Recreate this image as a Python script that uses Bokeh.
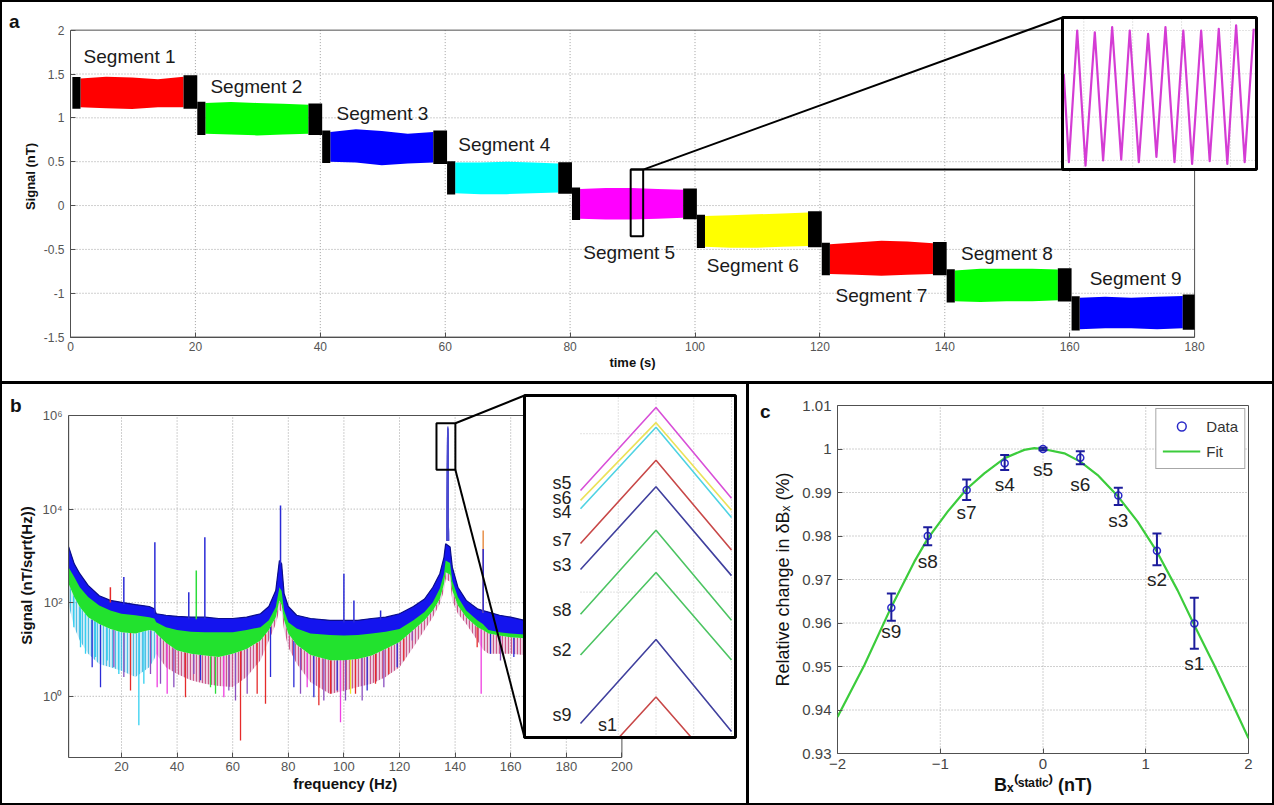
import numpy as np
from bokeh.plotting import figure
from bokeh.layouts import column, row
from bokeh.models import (Range1d, FixedTicker, ColumnDataSource, Legend, LegendItem,
                          Whisker, TeeHead, LogScale, CustomJSTickFormatter, LinearAxis, LogAxis)
from bokeh.core.properties import value
from bokeh.embed import file_html
from bokeh.resources import INLINE

FONT = "Liberation Sans"

# ===================== DATA =====================
# ---- panel a : stepped field, envelope of each segment (nT) ----
seg_names = ["Segment 1", "Segment 2", "Segment 3", "Segment 4", "Segment 5",
             "Segment 6", "Segment 7", "Segment 8", "Segment 9"]
seg_colors = ["#ff0000", "#00ff00", "#0000ff", "#00ffff", "#ff00ff",
              "#ffff00", "#ff0000", "#00ff00", "#0000ff"]
seg_start = [0, 20, 40, 60, 80, 100, 120, 140, 160]
seg_env_dt = [1.6, 5.7, 9.85, 14.0, 18.1]
seg_top = [
    [1.45, 1.47, 1.46, 1.44, 1.47],
    [1.17, 1.18, 1.17, 1.16, 1.15],
    [0.84, 0.87, 0.85, 0.82, 0.84],
    [0.49, 0.49, 0.50, 0.49, 0.48],
    [0.19, 0.20, 0.20, 0.19, 0.18],
    [-0.12, -0.11, -0.10, -0.09, -0.08],
    [-0.44, -0.42, -0.40, -0.41, -0.43],
    [-0.74, -0.72, -0.72, -0.72, -0.73],
    [-1.05, -1.04, -1.05, -1.04, -1.03],
]
seg_bot = [
    [1.12, 1.11, 1.10, 1.12, 1.12],
    [0.82, 0.81, 0.80, 0.81, 0.82],
    [0.50, 0.49, 0.46, 0.48, 0.49],
    [0.14, 0.13, 0.13, 0.14, 0.15],
    [-0.15, -0.16, -0.16, -0.15, -0.14],
    [-0.47, -0.48, -0.48, -0.47, -0.46],
    [-0.78, -0.79, -0.80, -0.79, -0.78],
    [-1.09, -1.10, -1.09, -1.09, -1.08],
    [-1.41, -1.40, -1.40, -1.41, -1.40],
]
black_lead = (0.3, 1.6)
black_tail = (18.1, 20.3)

# zoomed trace (inset of panel a): extrema of the magenta trace
zoom_t = [1.8, 3.9, 7.3, 10.7, 14.5, 17.9, 21.6, 25.3, 28.8, 32.5, 36.3, 39.7,
          43.4, 47.1, 50.7, 54.3, 58.0, 61.5, 65.2, 68.7, 72.3, 75.8, 79.5]   # ms
zoom_v = [0.100, -0.104, 0.200, -0.112, 0.196, -0.100, 0.208, -0.098, 0.200, -0.104,
          0.192, -0.092, 0.208, -0.104, 0.200, -0.108, 0.200, -0.102, 0.204, -0.108,
          0.212, -0.104, 0.204]                                                    # nT

# ---- panel b : spectra (nT/sqrt(Hz)), envelopes of the overlaid traces ----
spec_f = [1.0, 3, 5, 8, 12, 16, 20, 25, 30, 31.8,
          32.5, 36, 40, 45, 50, 55, 60, 65, 70, 73,
          75.5, 76.8, 77.6, 78.5, 80, 83, 88, 95, 100, 105,
          110, 115, 120, 125, 129, 132, 134.5, 136, 136.6, 138.2,
          139, 141, 144, 148, 150, 152, 156, 160, 165, 180, 200]
spec_blue_top = [1550, 676, 417, 234, 141, 112, 102, 91, 83, 74,
                 58, 54, 51, 49, 49, 46, 46, 49, 58, 83,
                 182, 794, 676, 155, 83, 54, 46, 42, 42, 42,
                 46, 49, 58, 83, 120, 214, 417, 933, 1820, 1550,
                 575, 214, 112, 74, 68, 63, 54, 49, 42, 35, 32]
spec_blue_bot = [562, 355, 214, 132, 87, 68, 58, 54, 49, 46,
                 38, 30, 26, 24, 23.4, 23.4, 23.4, 26, 30, 42,
                 81, 214, 178, 68, 38, 28, 22, 20.4, 20, 20.4,
                 22, 24, 27.5, 42, 63, 102, 200, 417, 794, 708,
                 295, 132, 68, 42, 35, 26, 23.4, 22, 21, 19.5, 18.2]
spec_green_bot = [251, 132, 81, 49, 35, 27.5, 23.4, 22, 26, 25,
                  22, 14, 9.5, 8.1, 7.4, 6.9, 8.1, 10.2, 15.5, 26,
                  49, 112, 89, 42, 22, 12.6, 7.6, 5.9, 5.9, 6.3,
                  7.4, 10.2, 14.5, 26, 42, 68, 120, 251, 447, 398,
                  182, 87, 49, 30, 26, 22, 20, 18.2, 17.4, 15.1, 13.2]
spec_fringe_bot = [89, 30, 15.5, 8.1, 4.9, 4.2, 3.5, 2.6, 4.2, 6.3,
                   8.1, 4.2, 3.0, 2.2, 1.86, 1.66, 1.58, 2.6, 5.9, 15.5,
                   35, 71, 63, 26, 11.2, 5.0, 2.0, 1.12, 1.32, 1.58,
                   1.86, 2.6, 4.2, 11.2, 26, 49, 95, 182, 316, 282,
                   112, 58, 35, 15.5, 10, 8.1, 8.1, 8.1, 7.6, 6.6, 5.9]
dip_f = [2.86, 5.25, 7.05, 9.45, 10.65, 12.45, 14.85, 17.24, 19.04, 20.84,
         23.24, 26.24, 28.04, 30.43, 32.83, 34.03, 36.43, 38.83, 43.02, 46.02,
         48.42, 52.02, 53.82, 56.81, 58.61, 61.01, 62.81, 65.21, 68.80, 71.80,
         73.60, 82.0, 84.39, 86.79, 89.19, 90.99, 92.78, 95.18, 97.58, 98.78,
         100.58, 102.38, 104.17, 106.57, 108.37, 111.37, 114.37, 116.17, 119.16, 121.56,
         124.56, 147.94, 149.38, 152.74, 156.33, 161.13]
dip_v = [30, 11.2, 8.1, 4.2, 6.9, 1.57, 5.8, 4.2, 3.0, 2.6,
         1.33, 0.24, 1.85, 3.0, 1.57, 1.85, 1.13, 1.57, 0.96, 3.0,
         2.2, 1.57, 1.13, 0.96, 1.33, 0.81, 0.114, 1.13, 1.13, 0.69,
         2.6, 1.57, 1.13, 1.57, 0.96, 0.64, 0.81, 1.13, 1.33, 0.28,
         0.81, 1.13, 1.13, 0.81, 1.33, 1.85, 1.57, 3.0, 4.2, 5.8,
         15.6, 11.2, 1.13, 8.1, 5.8, 6.9]
dip_c = ["cyan", "cyan", "cyan", "blue", "cyan", "blue", "cyan", "purple", "cyan", "purple",
         "red", "cyan", "cyan", "purple", "magenta", "purple", "magenta", "purple", "red", "purple",
         "blue", "green", "green", "magenta", "purple", "purple", "red", "purple", "red", "red",
         "blue", "blue", "purple", "magenta", "blue", "red", "purple", "red", "blue", "magenta",
         "purple", "yellow", "red", "purple", "blue", "red", "purple", "red", "blue", "red",
         "purple", "red", "magenta", "blue", "purple", "blue"]
spike_f = [16.0, 20.84, 32.0, 44.2, 46.9, 49.98, 77.2, 100.0, 103.6, 113.2, 150.1, 150.1]
spike_v = [214, 353, 1960, 168, 488, 2510, 11900, 414, 111, 68, 3490, 1410]
spike_c = ["red", "blue", "blue", "blue", "green", "blue", "blue", "blue", "blue", "blue",
           "orange", "blue"]
peak_base = 2100.0
peak_f = [137.3, 137.4, 137.5]
peak_names = ["s1", "s2", "s3", "s4", "s5", "s6", "s7", "s8", "s9"]
peak_vals = [
    [6.76e4, 1.09e5, 6.61e4],
    [1.39e5, 2.24e5, 1.35e5],
    [2.28e5, 3.68e5, 2.20e5],
    [3.24e5, 5.19e5, 3.08e5],
    [3.60e5, 5.82e5, 3.44e5],
    [3.40e5, 5.33e5, 3.21e5],
    [2.65e5, 4.29e5, 2.55e5],
    [1.76e5, 2.86e5, 1.70e5],
    [9.35e4, 1.52e5, 8.93e4],
]
peak_inset_colors = ["#c84848", "#4cc462", "#40409e", "#4fd3e3", "#d84fd8",
                     "#ebe25a", "#c84848", "#4cc462", "#40409e"]

# ---- panel c ----
c_names = ["s9", "s8", "s7", "s4", "s5", "s6", "s3", "s2", "s1"]
c_x = [-1.476, -1.122, -0.743, -0.373, 0.0, 0.363, 0.733, 1.109, 1.473]
c_y = [0.9635, 0.9800, 0.9906, 0.9967, 1.0000, 0.9980, 0.9893, 0.9766, 0.9599]
c_lo = [0.9605, 0.9779, 0.9883, 0.9952, 0.9997, 0.9965, 0.9871, 0.9733, 0.9541]
c_hi = [0.9668, 0.9820, 0.9930, 0.9986, 1.0003, 0.9995, 0.9911, 0.9806, 0.9658]
fit_x = [-2.0, -1.739, -1.476, -1.252, -1.122, -0.928, -0.743, -0.571, -0.373, -0.182,
         -0.084, 0.0, 0.208, 0.363, 0.532, 0.733, 0.921, 1.109, 1.310, 1.473,
         1.667, 1.829, 2.0]
fit_y = [0.9384, 0.9503, 0.9637, 0.9741, 0.9794, 0.9856, 0.9908, 0.9944, 0.9979, 0.9998,
         1.0002, 1.0000, 0.9990, 0.9971, 0.9940, 0.9890, 0.9833, 0.9764, 0.9675, 0.9595,
         0.9503, 0.9422, 0.9335]

# ===================== STYLE / LAYOUT =====================
W, H = 1274, 805
PAD, GAP = 2, 3
HA_, WB_ = 379, 744
A_BOX = (PAD, PAD, W - 2 * PAD, HA_)
B_BOX = (PAD, PAD + HA_ + GAP, WB_, H - 2 * PAD - HA_ - GAP)
C_BOX = (PAD + WB_ + GAP, PAD + HA_ + GAP, W - 2 * PAD - WB_ - GAP, H - 2 * PAD - HA_ - GAP)

def frame_borders(box, L, R, T, B):
    ox, oy, w, h = box
    mbl, mbr = int(round(L - ox)), int(round(ox + w - R))
    mbt, mbb = int(round(T - oy)), int(round(oy + h - B))
    kw = dict(width=w, height=h, min_border_left=mbl, min_border_right=mbr,
              min_border_top=mbt, min_border_bottom=mbb)
    return kw, (ox + mbl, ox + w - mbr, oy + mbt, oy + h - mbb)

COL = {"cyan": "#33d0f0", "blue": "#2b2bd6", "purple": "#8a4fc0", "magenta": "#ee3fe0",
       "red": "#e52b2b", "green": "#2bdc3a", "yellow": "#f0e62b", "orange": "#e8904a"}
GRID = dict(line_color="#a0a0a0", line_dash="1 2", line_width=1)
BOX = "#505050"
COMMON = dict(output_backend="svg", toolbar_location=None, title=None, frame_align=False,
              styles={"background-color": "#ffffff"})

def style_axis(ax, size, color, lsize, lstyle="bold"):
    ax.major_label_text_font = FONT
    ax.major_label_text_font_size = size
    ax.major_label_text_color = color
    ax.axis_label_text_font = FONT
    ax.axis_label_text_font_size = lsize
    ax.axis_label_text_font_style = lstyle
    ax.axis_label_text_color = "#111111"
    ax.major_tick_in = 5
    ax.major_tick_out = 0
    ax.minor_tick_line_color = None
    ax.major_tick_line_color = BOX
    ax.axis_line_color = BOX

def text_axis(p, side, pos, txt, size, style, standoff, log=False):
    cls = LogAxis if log else LinearAxis
    ax = cls(ticker=FixedTicker(ticks=[pos]),
             formatter=CustomJSTickFormatter(code="return %r;" % txt),
             axis_line_color=None, major_tick_line_color=None, minor_tick_line_color=None,
             major_tick_in=0, major_tick_out=0,
             major_label_text_font=FONT, major_label_text_font_size=size,
             major_label_text_font_style=style, major_label_text_color="#111111",
             major_label_standoff=standoff)
    p.add_layout(ax, side)
    return ax

# ===================== PANEL A =====================
def ta(px): return (px - 70.0) / 6.245
def va(py): return -1.5 + (336.6 - py) / 87.7
kwa, (aL, aR, aT, aB) = frame_borders(A_BOX, 70.0, 1258.0, 15.0, 336.6)

pa = figure(x_range=Range1d(ta(aL), ta(aR)), y_range=Range1d(va(aB), va(aT)),
            y_axis_label="Signal (nT)", **kwa, **COMMON)
pa.outline_line_color = None
pa.grid.visible = False
a_xticks = [0, 20, 40, 60, 80, 100, 120, 140, 160, 180]
a_yticks = [-1.5, -1.0, -0.5, 0.0, 0.5, 1.0, 1.5, 2.0]
pa.xaxis.ticker = FixedTicker(ticks=a_xticks)
pa.yaxis.ticker = FixedTicker(ticks=a_yticks)
pa.xaxis.bounds = (a_xticks[0], a_xticks[-1])
pa.yaxis.bounds = (a_yticks[0], a_yticks[-1])
pa.yaxis.formatter = CustomJSTickFormatter(code="return String(tick);")
style_axis(pa.xaxis[0], "12px", "#555555", "13px")
style_axis(pa.yaxis[0], "12px", "#555555", "13px")
pa.xaxis.major_label_standoff = 4
pa.yaxis.major_label_standoff = 6
pa.yaxis.axis_label_standoff = 3
text_axis(pa, "below", 0.5 * (a_xticks[0] + a_xticks[-1]), "time (s)", "13px", "bold", 1)
text_axis(pa, "left", va(21), "a", "19px", "bold", 0)

gx, gy = a_xticks[1:-1], a_yticks[1:-1]
pa.segment(x0=gx, y0=[a_yticks[0]] * len(gx), x1=gx, y1=[a_yticks[-1]] * len(gx), **GRID)
pa.segment(x0=[a_xticks[0]] * len(gy), y0=gy, x1=[a_xticks[-1]] * len(gy), y1=gy, **GRID)
pa.quad(left=[a_xticks[0]], right=[a_xticks[-1]], bottom=[a_yticks[0]], top=[a_yticks[-1]],
        fill_color=None, line_color=BOX, line_width=1)

for i in range(9):
    t0 = seg_start[i]
    xs = [t0 + d for d in seg_env_dt]
    pa.varea(x=xs, y1=seg_bot[i], y2=seg_top[i], fill_color=seg_colors[i])
    pa.varea(x=[t0 + black_lead[0], t0 + black_lead[1]],
             y1=[seg_bot[i][0] - 0.015] * 2, y2=[seg_top[i][0] + 0.015] * 2, fill_color="black")
    tail_end = min(t0 + black_tail[1], a_xticks[-1])
    pa.varea(x=[t0 + black_tail[0], tail_end],
             y1=[seg_bot[i][-1] - 0.015] * 2, y2=[seg_top[i][-1] + 0.015] * 2, fill_color="black")

seg_lab_t = [2.1, 22.4, 42.6, 62.1, 82.1, 101.9, 122.5, 142.6, 163.2]
seg_lab_v = [1.70, 1.36, 1.055, 0.70, -0.53, -0.68, -1.03, -0.55, -0.83]
pa.text(x=seg_lab_t, y=seg_lab_v, text=seg_names, text_font=value(FONT),
        text_font_size=value("19px"), text_color="#1a1a1a", text_baseline="middle", text_align="left")

# zoom box + connectors
ZT = (89.7, 91.7)
ZV = (-0.35, 0.41)
IA_L, IA_R, IA_T, IA_B = 1062.0, 1256.0, 17.0, 169.0
pa.quad(left=[ZT[0]], right=[ZT[1]], bottom=[ZV[0]], top=[ZV[1]], fill_color=None,
        line_color="black", line_width=2)
pa.segment(x0=[ZT[1], ZT[0]], y0=[ZV[1], ZV[1]], x1=[ta(IA_L), ta(IA_L)], y1=[va(IA_T), va(IA_B)],
           line_color="black", line_width=2)

# inset a
def ia_t(px): return 10.0 + (px - 1083.3) * 0.409
def ia_v(py): return 0.2 - (py - 30.0) / 433.0
pa.extra_x_ranges = {"iax": Range1d(ia_t(aL), ia_t(aR))}
pa.extra_y_ranges = {"iay": Range1d(ia_v(aB), ia_v(aT))}
IAK = dict(x_range_name="iax", y_range_name="iay")
pa.quad(left=[ia_t(IA_L)], right=[ia_t(IA_R)], bottom=[ia_v(IA_B)], top=[ia_v(IA_T)],
        fill_color="white", line_color=None, **IAK)
ia_gx = [10, 30, 50, 70]
ia_gy = [-0.1, 0.0, 0.1, 0.2]
pa.segment(x0=ia_gx, y0=[ia_v(IA_B)] * 4, x1=ia_gx, y1=[ia_v(IA_T)] * 4,
           line_color="#c8c8c8", line_dash="1 2", **IAK)
pa.segment(x0=[ia_t(IA_L)] * 4, y0=ia_gy, x1=[ia_t(IA_R)] * 4, y1=ia_gy,
           line_color="#c8c8c8", line_dash="1 2", **IAK)
pa.line(zoom_t, zoom_v, line_color="#d43cd4", line_width=2.2, line_join="round", **IAK)
pa.quad(left=[ia_t(IA_L)], right=[ia_t(IA_R)], bottom=[ia_v(IA_B)], top=[ia_v(IA_T)],
        fill_color=None, line_color="black", line_width=3, **IAK)

# ===================== PANEL B =====================
def fb(px): return (px - 65.4) / 2.78
def Lb(py): return 6.0 - (py - 415.0) / 46.8
kwb, (bL, bR, bT, bB) = frame_borders(B_BOX, 68.18, 737.0, 393.0, 757.0)

pb = figure(x_range=Range1d(fb(bL), fb(bR)), y_range=Range1d(10 ** Lb(bB), 10 ** Lb(bT)),
            y_axis_type="log", y_axis_label="Signal (nT/sqrt(Hz))", **kwb, **COMMON)
pb.outline_line_color = None
pb.grid.visible = False
b_xticks = [20, 40, 60, 80, 100, 120, 140, 160, 180, 200]
b_yticks = [1.0, 100.0, 1e4, 1e6]
b_xmin, b_ymin = 1.0, 10 ** Lb(bB)
pb.xaxis.ticker = FixedTicker(ticks=b_xticks)
pb.yaxis.ticker = FixedTicker(ticks=b_yticks)
pb.xaxis.bounds = (b_xmin, b_xticks[-1])
pb.yaxis.bounds = (b_ymin, b_yticks[-1])
pb.yaxis.formatter = CustomJSTickFormatter(code="""
const s = {"-2":"\u207b\u00b2","-1":"\u207b\u00b9","0":"\u2070","1":"\u00b9","2":"\u00b2","3":"\u00b3",
           "4":"\u2074","5":"\u2075","6":"\u2076"};
const e = Math.round(Math.log10(tick));
return "10" + (s[String(e)] || String(e));
""")
style_axis(pb.xaxis[0], "13px", "#555555", "15px")
style_axis(pb.yaxis[0], "13px", "#555555", "15px")
pb.yaxis.major_label_standoff = 6
pb.yaxis.axis_label_standoff = 4
pb.xaxis.major_label_standoff = 4
text_axis(pb, "below", 0.5 * (b_xmin + b_xticks[-1]), "frequency (Hz)", "15px", "bold", 1)
text_axis(pb, "left", 10 ** Lb(404.5), "b", "19px", "bold", -6, log=True)

bgx = b_xticks[:-1]
bgy = b_yticks[:-1]
pb.segment(x0=bgx, y0=[b_ymin] * len(bgx), x1=bgx, y1=[b_yticks[-1]] * len(bgx), **GRID)
pb.segment(x0=[b_xmin] * len(bgy), y0=bgy, x1=[b_xticks[-1]] * len(bgy), y1=bgy, **GRID)

sf = np.array(spec_f, dtype=float)
bt, bb = np.array(spec_blue_top, float), np.array(spec_blue_bot, float)
gb, frb = np.array(spec_green_bot, float), np.array(spec_fringe_bot, float)
def env_at(arr, f):
    return 10 ** np.interp(f, sf, np.log10(arr))

split = spec_f.index(32.5) + 1
pb.varea(x=sf[:split], y1=frb[:split], y2=gb[:split], fill_color="#7fcbe8", fill_alpha=0.35,
         hatch_pattern="vertical_line", hatch_color="#30b4e0", hatch_scale=3, hatch_weight=1.2,
         hatch_alpha=0.8)
pb.varea(x=sf[split - 1:], y1=frb[split - 1:], y2=gb[split - 1:], fill_color="#c36aa8",
         fill_alpha=0.3, hatch_pattern="vertical_line", hatch_color="#c0306a", hatch_scale=3,
         hatch_weight=1.2, hatch_alpha=0.75)
pb.segment(x0=dip_f, y0=[env_at(gb, f) for f in dip_f], x1=dip_f, y1=dip_v,
           line_color=[COL[c] for c in dip_c], line_width=1.3)
pb.varea(x=sf, y1=gb, y2=bt, fill_color="#22e22e")
pb.varea(x=sf, y1=bb, y2=bt, fill_color="#1414ee")
pb.line(sf, bt, line_color="#0c0c8c", line_width=1.2)
pb.segment(x0=spike_f, y0=[env_at(bt, f) * 0.9 for f in spike_f], x1=spike_f, y1=spike_v,
           line_color=[COL[c] for c in spike_c], line_width=1.5)
for i in range(9):
    pb.line([peak_f[0] - 0.1] + peak_f + [peak_f[-1] + 0.1],
            [peak_base] + peak_vals[i] + [peak_base],
            line_color="#4b4bd0", line_width=1.3)
pb.quad(left=[b_xmin], right=[b_xticks[-1]], bottom=[b_ymin], top=[b_yticks[-1]],
        fill_color=None, line_color=BOX, line_width=1)

# zoom box + connectors
ZF = (133.3, 140.1)
ZA = (6.9e4, 6.84e5)
IB_L, IB_R, IB_T, IB_B = 524.0, 735.0, 395.0, 737.0
pb.quad(left=[ZF[0]], right=[ZF[1]], bottom=[ZA[0]], top=[ZA[1]], fill_color=None,
        line_color="black", line_width=2)
pb.segment(x0=[ZF[1], ZF[1]], y0=[ZA[1], ZA[0]], x1=[fb(IB_L), fb(IB_L)],
           y1=[10 ** Lb(IB_T), 10 ** Lb(IB_B)], line_color="black", line_width=2)

# inset b
def ib_f(px): return 137.3 + (px - 580.0) * 0.2 / 151.0
def ib_L(py): return 5.795 - (py - 395.0) / 398.0
pb.extra_x_ranges = {"ibx": Range1d(ib_f(bL), ib_f(bR))}
pb.extra_y_ranges = {"iby": Range1d(10 ** ib_L(bB), 10 ** ib_L(bT))}
pb.extra_y_scales = {"iby": LogScale()}
IBK = dict(x_range_name="ibx", y_range_name="iby")
ib_bottom = 10 ** ib_L(IB_B)
ib_top = 10 ** ib_L(IB_T)
pb.quad(left=[ib_f(IB_L)], right=[ib_f(IB_R)], bottom=[ib_bottom], top=[ib_top],
        fill_color="white", line_color=None, **IBK)
ib_gx = [137.35, 137.4, 137.45, 137.5]
ib_gy = [2e5, 5e5]
pb.segment(x0=ib_gx, y0=[ib_bottom] * 4, x1=ib_gx, y1=[ib_top] * 4,
           line_color="#c4c4c4", line_dash="1 2", **IBK)
pb.segment(x0=[peak_f[0]] * 2, y0=ib_gy, x1=[ib_f(IB_R)] * 2, y1=ib_gy,
           line_color="#c4c4c4", line_dash="1 2", **IBK)

def clip_low(xs, ys, ymin):
    ox, oy = [], []
    ly = np.log10(ys)
    lm = np.log10(ymin)
    for k in range(len(xs)):
        if ys[k] >= ymin:
            if k > 0 and ys[k - 1] < ymin:
                fr = (lm - ly[k - 1]) / (ly[k] - ly[k - 1])
                ox.append(xs[k - 1] + fr * (xs[k] - xs[k - 1])); oy.append(ymin)
            ox.append(xs[k]); oy.append(ys[k])
        elif k > 0 and ys[k - 1] >= ymin:
            fr = (lm - ly[k - 1]) / (ly[k] - ly[k - 1])
            ox.append(xs[k - 1] + fr * (xs[k] - xs[k - 1])); oy.append(ymin)
    return ox, oy

ib_lab_dy = [0, -5, -4, 3, -8, -2, -3, -4, -9]   # label nudges (px), s1..s9
lab_x, lab_y, lab_t, lab_dy = [], [], [], []
for i in range(9):
    cx_, cy_ = clip_low(peak_f, peak_vals[i], ib_bottom)
    pb.line(cx_, cy_, line_color=peak_inset_colors[i], line_width=1.6, **IBK)
    if i > 0:
        lab_x.append(cx_[0]); lab_y.append(cy_[0]); lab_t.append(peak_names[i])
        lab_dy.append(ib_lab_dy[i])
src_lab = ColumnDataSource(dict(x=lab_x, y=lab_y, t=lab_t, dy=lab_dy))
pb.text(x="x", y="y", text="t", x_offset=-9, y_offset="dy", source=src_lab, text_font=value(FONT),
        text_font_size=value("18px"), text_color="#222222", text_align="right",
        text_baseline="middle", **IBK)
c1x, c1y = clip_low(peak_f, peak_vals[0], ib_bottom)
pb.text(x=[c1x[0]], y=[c1y[0]], text=[peak_names[0]], x_offset=-2, y_offset=-3,
        text_font=value(FONT), text_font_size=value("18px"), text_color="#222222",
        text_align="right", text_baseline="bottom", **IBK)
pb.quad(left=[ib_f(IB_L)], right=[ib_f(IB_R)], bottom=[ib_bottom], top=[ib_top],
        fill_color=None, line_color="black", line_width=3, **IBK)

# ===================== PANEL C =====================
kwc, _ = frame_borders(C_BOX, 836.5, 1247.6, 405.3, 753.0)
c_xticks = [-2, -1, 0, 1, 2]
c_yticks = [0.93, 0.94, 0.95, 0.96, 0.97, 0.98, 0.99, 1.0, 1.01]
pc = figure(x_range=Range1d(c_xticks[0], c_xticks[-1]), y_range=Range1d(c_yticks[0], c_yticks[-1]),
            x_axis_label="B\u2093\u207d\u02e2\u1d57\u1d43\u1d57\u2071\u1d9c\u207e (nT)",
            y_axis_label="Relative change in \u03b4B\u2093 (%)", **kwc, **COMMON)
pc.outline_line_color = BOX
pc.grid.visible = False
pc.xaxis.ticker = FixedTicker(ticks=c_xticks)
pc.yaxis.ticker = FixedTicker(ticks=c_yticks)
pc.yaxis.formatter = CustomJSTickFormatter(code="return String(tick);")
style_axis(pc.xaxis[0], "15px", "#444444", "18px")
style_axis(pc.yaxis[0], "15px", "#444444", "18px", "normal")
pc.xaxis.axis_line_color = None
pc.yaxis.axis_line_color = None
pc.yaxis.major_label_standoff = 6
pc.yaxis.axis_label_standoff = 6
pc.xaxis.major_label_standoff = 5
pc.xaxis.axis_label_standoff = 3
text_axis(pc, "left", 1.01 + (405.3 - 411.0) / 4340.0, "c", "19px", "bold", 0)
cgx, cgy = c_xticks[1:-1], c_yticks[1:-1]
pc.segment(x0=cgx, y0=[c_yticks[0]] * len(cgx), x1=cgx, y1=[c_yticks[-1]] * len(cgx), **GRID)
pc.segment(x0=[c_xticks[0]] * len(cgy), y0=cgy, x1=[c_xticks[-1]] * len(cgy), y1=cgy, **GRID)

fit_r = pc.line(fit_x, fit_y, line_color="#3ccc3c", line_width=2.2)
c_lab_dy = [24, 25, 23, 21, 20, 27, 25, 29, 40]
src_c = ColumnDataSource(dict(x=c_x, y=c_y, lo=c_lo, hi=c_hi, name=c_names, dy=c_lab_dy))
wk = Whisker(source=src_c, base="x", lower="lo", upper="hi", dimension="height",
             line_color="#1c1c9c", line_width=2, level="overlay",
             upper_head=TeeHead(size=9, line_color="#1c1c9c", line_width=2),
             lower_head=TeeHead(size=9, line_color="#1c1c9c", line_width=2))
pc.add_layout(wk)
dat_r = pc.scatter("x", "y", source=src_c, marker="circle", size=7, fill_color=None,
                   line_color="#2a2ac8", line_width=1.5)
pc.text(x="x", y="y", text="name", y_offset="dy", source=src_c, text_font=value(FONT),
        text_font_size=value("19px"), text_color="#222222", text_align="center",
        text_baseline="middle")
leg = Legend(items=[LegendItem(label="Data", renderers=[dat_r]),
                    LegendItem(label="Fit", renderers=[fit_r])],
             location="top_right", border_line_color=BOX, border_line_width=1,
             label_text_font=FONT, label_text_font_size="15px", label_text_color="#333333",
             glyph_width=38, glyph_height=22, label_height=22, padding=6, spacing=3,
             margin=3, label_standoff=6, background_fill_alpha=1.0)
pc.add_layout(leg)

layout = column(pa, row(pb, pc, spacing=GAP), spacing=GAP,
                styles={"background-color": "#000000", "padding": "%dpx" % PAD})
open("out.html", "w").write(file_html(layout, INLINE, "Figure"))
